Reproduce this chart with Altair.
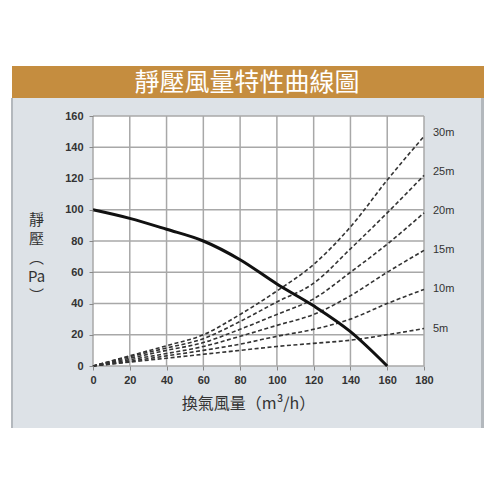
import altair as alt
import pandas as pd

# ---- data ----
flow = [0, 20, 40, 60, 80, 100, 120, 140, 160, 180]

fan_flow = [0, 20, 40, 60, 80, 100, 120, 140, 160]
fan_pressure = [100, 94.5, 87.5, 80, 68, 52.5, 38.5, 22, 0]

duct_names = ["5m", "10m", "15m", "20m", "25m", "30m"]
duct_5m = [0, 2.5, 5, 7.5, 10, 12.5, 14.5, 16.5, 20, 24]
duct_10m = [0, 3, 6.5, 10, 14, 19, 23.5, 30, 40, 49]
duct_15m = [0, 4, 8, 12.5, 19, 26, 33, 45, 60, 74]
duct_20m = [0, 5, 10, 15, 23.5, 33, 43, 60, 78, 98]
duct_25m = [0, 6, 11.5, 17.5, 28.5, 41, 53, 75, 98, 122]
duct_30m = [0, 6.5, 13, 20, 33, 48, 65, 89, 119, 147]
duct_series = [duct_5m, duct_10m, duct_15m, duct_20m, duct_25m, duct_30m]
label_pressure = [24, 49, 74, 99, 124, 149]

x_ticks = [0, 20, 40, 60, 80, 100, 120, 140, 160, 180]
y_ticks = [0, 20, 40, 60, 80, 100, 120, 140, 160]

title_text = "靜壓風量特性曲線圖"
x_title = "換氣風量（m³/h）"
y_title = ["靜", "壓", "︵", "Pa", "︶"]

# ---- tables ----
fan_df = pd.DataFrame({"q": fan_flow, "p": fan_pressure})
duct_df = pd.DataFrame(
    [{"curve": n, "q": q, "p": p} for n, s in zip(duct_names, duct_series) for q, p in zip(flow, s)]
)
label_df = pd.DataFrame({"curve": duct_names, "q": [180] * 6, "p": label_pressure})
xgrid_df = pd.DataFrame({"q": x_ticks})
ygrid_df = pd.DataFrame({"p": y_ticks})
one = pd.DataFrame({"a": [0]})

W, H = 331, 250
CJK = "Noto Sans CJK TC"
LAT = "Liberation Sans"

xs = alt.Scale(domain=[0, 180], nice=False)
ys = alt.Scale(domain=[0, 160], nice=False)

x_axis = alt.Axis(values=x_ticks, grid=False, domain=False, tickSize=4, tickColor="#888888",
                  tickWidth=1, labelFont=LAT, labelFontSize=11, labelFontWeight="bold",
                  labelColor="#333333", labelPadding=4, labelOverlap=False, labelFlush=False,
                  title=x_title, titleFont=CJK,
                  titleFontSize=16, titleFontWeight="normal", titleColor="#333333",
                  titleX=155, titleY=37, titleBaseline="middle", titleAlign="center", zindex=1)
y_axis = alt.Axis(values=y_ticks, grid=False, domain=False, tickSize=4, tickColor="#888888",
                  tickWidth=1, labelFont=LAT, labelFontSize=11, labelFontWeight="bold",
                  labelColor="#333333", labelPadding=6, labelOverlap=False, labelFlush=False,
                  title=y_title, titleFont=CJK,
                  titleFontSize=15, titleFontWeight="normal", titleColor="#333333",
                  titleAngle=0, titleX=-57, titleY=103, titleAlign="center",
                  titleBaseline="middle", titleLineHeight=19, zindex=1)

X = alt.X("q:Q", scale=xs, axis=x_axis)
Y = alt.Y("p:Q", scale=ys, axis=y_axis)

# decorations
panel = alt.Chart(one).mark_rect(color="#dde2e7").encode(
    x=alt.value(-81), x2=alt.value(391), y=alt.value(-50), y2=alt.value(312))
border_l = alt.Chart(one).mark_rect(color="#b3b8bd").encode(
    x=alt.value(-82), x2=alt.value(-80), y=alt.value(-18), y2=alt.value(312))
border_r = alt.Chart(one).mark_rect(color="#b3b8bd").encode(
    x=alt.value(388), x2=alt.value(391), y=alt.value(-18), y2=alt.value(312))
bar = alt.Chart(one).mark_rect(color="#c58d3f").encode(
    x=alt.value(-81), x2=alt.value(391), y=alt.value(-50), y2=alt.value(-18))
title = alt.Chart(one).mark_text(text=title_text, font=CJK, fontSize=25, color="white",
                                 baseline="middle", align="center").encode(
    x=alt.value(154), y=alt.value(-33))
plot_bg = alt.Chart(one).mark_rect(color="white").encode(
    x=alt.value(0), x2=alt.value(W), y=alt.value(0), y2=alt.value(H))

xgrid = alt.Chart(xgrid_df).mark_rule(color="#a8a8a8", strokeWidth=1.5).encode(
    x=X, y=alt.value(0), y2=alt.value(H))
ygrid = alt.Chart(ygrid_df).mark_rule(color="#a8a8a8", strokeWidth=1.5).encode(
    y=Y, x=alt.value(0), x2=alt.value(W))

ducts = alt.Chart(duct_df).mark_line(color="#333333", strokeWidth=1.6, strokeDash=[4, 2.5],
                                     interpolate="monotone").encode(
    x=X, y=Y, detail="curve:N")
fan = alt.Chart(fan_df).mark_line(color="#111111", strokeWidth=3, interpolate="monotone").encode(
    x=X, y=Y)
labels = alt.Chart(label_df).mark_text(align="left", baseline="middle", dx=9, font=LAT,
                                       fontSize=11, color="#333333").encode(
    x=X, y=Y, text="curve:N")

chart = alt.layer(panel, border_l, border_r, bar, title, plot_bg, xgrid, ygrid, ducts, fan, labels).properties(
    width=W, height=H, autosize="none",
    padding={"left": 85, "top": 108, "right": 68, "bottom": 70},
).configure_view(stroke=None).configure_axis(labelOverlap=False, labelFlush=False).configure(background="white")

chart.save("out.html", embed_options={"renderer": "svg", "actions": False})
